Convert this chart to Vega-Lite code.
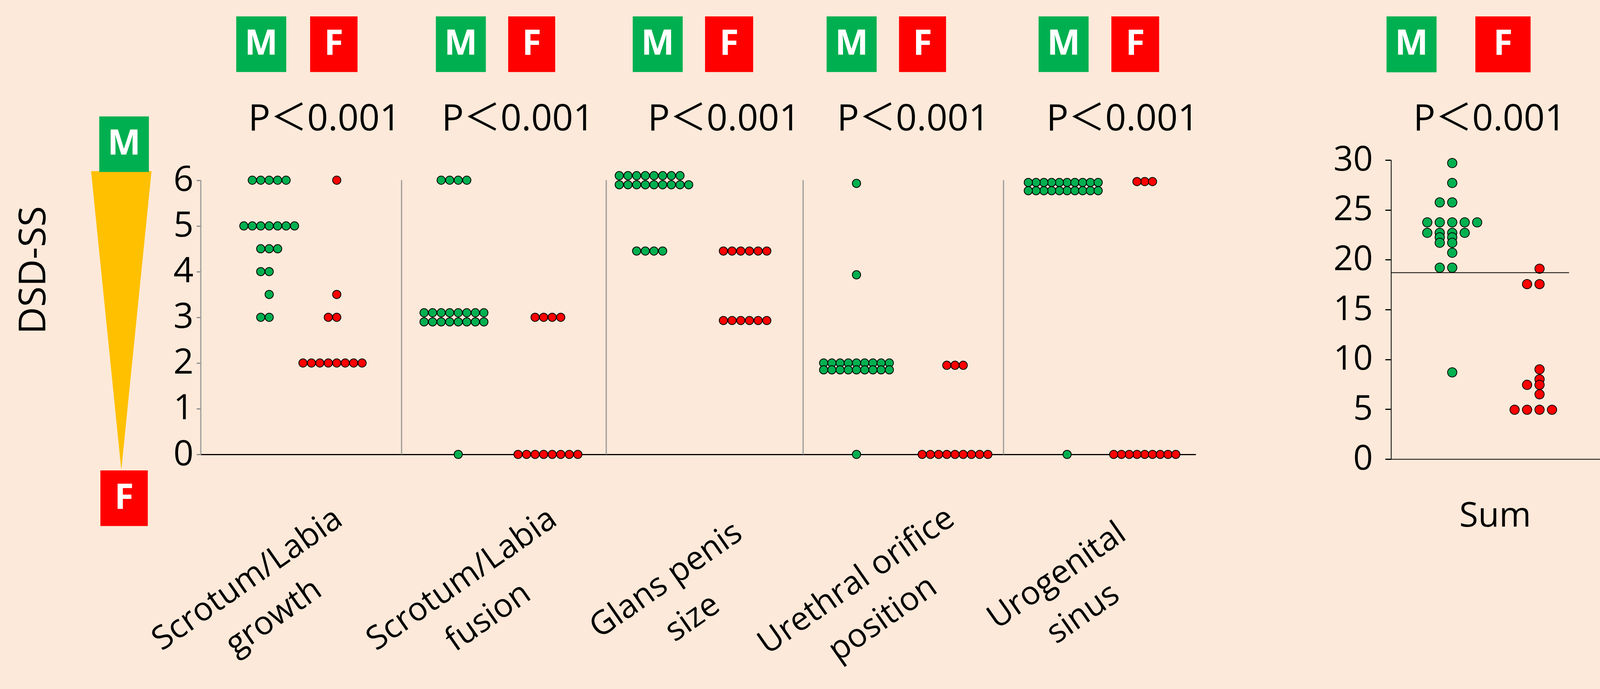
{
"$schema": "https://vega.github.io/schema/vega-lite/v6.json",
"background": "#FDE9D9",
"padding": {"left": 0, "top": 42, "right": 0, "bottom": 0},
"bounds": "flush",
"spacing": 0,
"datasets": {
"dots": [
{"c":"growth","s":"M","v":6},{"c":"growth","s":"M","v":6},{"c":"growth","s":"M","v":6},{"c":"growth","s":"M","v":6},{"c":"growth","s":"M","v":6},
{"c":"growth","s":"M","v":5},{"c":"growth","s":"M","v":5},{"c":"growth","s":"M","v":5},{"c":"growth","s":"M","v":5},{"c":"growth","s":"M","v":5},{"c":"growth","s":"M","v":5},{"c":"growth","s":"M","v":5},
{"c":"growth","s":"M","v":4.5},{"c":"growth","s":"M","v":4.5},{"c":"growth","s":"M","v":4.5},
{"c":"growth","s":"M","v":4},{"c":"growth","s":"M","v":4},
{"c":"growth","s":"M","v":3.5},
{"c":"growth","s":"M","v":3},{"c":"growth","s":"M","v":3},
{"c":"growth","s":"F","v":6},
{"c":"growth","s":"F","v":3.5},
{"c":"growth","s":"F","v":3},{"c":"growth","s":"F","v":3},
{"c":"growth","s":"F","v":2},{"c":"growth","s":"F","v":2},{"c":"growth","s":"F","v":2},{"c":"growth","s":"F","v":2},{"c":"growth","s":"F","v":2},{"c":"growth","s":"F","v":2},{"c":"growth","s":"F","v":2},{"c":"growth","s":"F","v":2},
{"c":"fusion","s":"M","v":6},{"c":"fusion","s":"M","v":6},{"c":"fusion","s":"M","v":6},{"c":"fusion","s":"M","v":6},
{"c":"fusion","s":"M","v":3.1},{"c":"fusion","s":"M","v":3.1},{"c":"fusion","s":"M","v":3.1},{"c":"fusion","s":"M","v":3.1},{"c":"fusion","s":"M","v":3.1},{"c":"fusion","s":"M","v":3.1},{"c":"fusion","s":"M","v":3.1},{"c":"fusion","s":"M","v":3.1},
{"c":"fusion","s":"M","v":2.9},{"c":"fusion","s":"M","v":2.9},{"c":"fusion","s":"M","v":2.9},{"c":"fusion","s":"M","v":2.9},{"c":"fusion","s":"M","v":2.9},{"c":"fusion","s":"M","v":2.9},{"c":"fusion","s":"M","v":2.9},{"c":"fusion","s":"M","v":2.9},
{"c":"fusion","s":"M","v":0},
{"c":"fusion","s":"F","v":3},{"c":"fusion","s":"F","v":3},{"c":"fusion","s":"F","v":3},{"c":"fusion","s":"F","v":3},
{"c":"fusion","s":"F","v":0},{"c":"fusion","s":"F","v":0},{"c":"fusion","s":"F","v":0},{"c":"fusion","s":"F","v":0},{"c":"fusion","s":"F","v":0},{"c":"fusion","s":"F","v":0},{"c":"fusion","s":"F","v":0},{"c":"fusion","s":"F","v":0},
{"c":"glans","s":"M","v":6.1},{"c":"glans","s":"M","v":6.1},{"c":"glans","s":"M","v":6.1},{"c":"glans","s":"M","v":6.1},{"c":"glans","s":"M","v":6.1},{"c":"glans","s":"M","v":6.1},{"c":"glans","s":"M","v":6.1},{"c":"glans","s":"M","v":6.1},
{"c":"glans","s":"M","v":5.9},{"c":"glans","s":"M","v":5.9},{"c":"glans","s":"M","v":5.9},{"c":"glans","s":"M","v":5.9},{"c":"glans","s":"M","v":5.9},{"c":"glans","s":"M","v":5.9},{"c":"glans","s":"M","v":5.9},{"c":"glans","s":"M","v":5.9},{"c":"glans","s":"M","v":5.9},
{"c":"glans","s":"M","v":4.45},{"c":"glans","s":"M","v":4.45},{"c":"glans","s":"M","v":4.45},{"c":"glans","s":"M","v":4.45},
{"c":"glans","s":"F","v":4.45},{"c":"glans","s":"F","v":4.45},{"c":"glans","s":"F","v":4.45},{"c":"glans","s":"F","v":4.45},{"c":"glans","s":"F","v":4.45},{"c":"glans","s":"F","v":4.45},
{"c":"glans","s":"F","v":2.93},{"c":"glans","s":"F","v":2.93},{"c":"glans","s":"F","v":2.93},{"c":"glans","s":"F","v":2.93},{"c":"glans","s":"F","v":2.93},{"c":"glans","s":"F","v":2.93},
{"c":"orifice","s":"M","v":5.93},
{"c":"orifice","s":"M","v":3.93},
{"c":"orifice","s":"M","v":2},{"c":"orifice","s":"M","v":2},{"c":"orifice","s":"M","v":2},{"c":"orifice","s":"M","v":2},{"c":"orifice","s":"M","v":2},{"c":"orifice","s":"M","v":2},{"c":"orifice","s":"M","v":2},{"c":"orifice","s":"M","v":2},{"c":"orifice","s":"M","v":2},
{"c":"orifice","s":"M","v":1.85},{"c":"orifice","s":"M","v":1.85},{"c":"orifice","s":"M","v":1.85},{"c":"orifice","s":"M","v":1.85},{"c":"orifice","s":"M","v":1.85},{"c":"orifice","s":"M","v":1.85},{"c":"orifice","s":"M","v":1.85},{"c":"orifice","s":"M","v":1.85},{"c":"orifice","s":"M","v":1.85},
{"c":"orifice","s":"M","v":0},
{"c":"orifice","s":"F","v":1.95},{"c":"orifice","s":"F","v":1.95},{"c":"orifice","s":"F","v":1.95},
{"c":"orifice","s":"F","v":0},{"c":"orifice","s":"F","v":0},{"c":"orifice","s":"F","v":0},{"c":"orifice","s":"F","v":0},{"c":"orifice","s":"F","v":0},{"c":"orifice","s":"F","v":0},{"c":"orifice","s":"F","v":0},{"c":"orifice","s":"F","v":0},{"c":"orifice","s":"F","v":0},
{"c":"sinus","s":"M","v":5.95},{"c":"sinus","s":"M","v":5.95},{"c":"sinus","s":"M","v":5.95},{"c":"sinus","s":"M","v":5.95},{"c":"sinus","s":"M","v":5.95},{"c":"sinus","s":"M","v":5.95},{"c":"sinus","s":"M","v":5.95},{"c":"sinus","s":"M","v":5.95},{"c":"sinus","s":"M","v":5.95},{"c":"sinus","s":"M","v":5.95},
{"c":"sinus","s":"M","v":5.77},{"c":"sinus","s":"M","v":5.77},{"c":"sinus","s":"M","v":5.77},{"c":"sinus","s":"M","v":5.77},{"c":"sinus","s":"M","v":5.77},{"c":"sinus","s":"M","v":5.77},{"c":"sinus","s":"M","v":5.77},{"c":"sinus","s":"M","v":5.77},{"c":"sinus","s":"M","v":5.77},{"c":"sinus","s":"M","v":5.77},
{"c":"sinus","s":"M","v":0},
{"c":"sinus","s":"F","v":5.97},{"c":"sinus","s":"F","v":5.97},{"c":"sinus","s":"F","v":5.97},
{"c":"sinus","s":"F","v":0},{"c":"sinus","s":"F","v":0},{"c":"sinus","s":"F","v":0},{"c":"sinus","s":"F","v":0},{"c":"sinus","s":"F","v":0},{"c":"sinus","s":"F","v":0},{"c":"sinus","s":"F","v":0},{"c":"sinus","s":"F","v":0},{"c":"sinus","s":"F","v":0},
{"c":"sum","s":"M","v":29.7},
{"c":"sum","s":"M","v":27.7},
{"c":"sum","s":"M","v":25.75},{"c":"sum","s":"M","v":25.75},
{"c":"sum","s":"M","v":23.75},{"c":"sum","s":"M","v":23.75},{"c":"sum","s":"M","v":23.75},{"c":"sum","s":"M","v":23.75},{"c":"sum","s":"M","v":23.75},
{"c":"sum","s":"M","v":22.7},{"c":"sum","s":"M","v":22.7},{"c":"sum","s":"M","v":22.7},{"c":"sum","s":"M","v":22.7},
{"c":"sum","s":"M","v":22.25},{"c":"sum","s":"M","v":22.25},
{"c":"sum","s":"M","v":21.7},{"c":"sum","s":"M","v":21.7},
{"c":"sum","s":"M","v":20.7},
{"c":"sum","s":"M","v":19.2},{"c":"sum","s":"M","v":19.2},
{"c":"sum","s":"M","v":8.7},
{"c":"sum","s":"F","v":19.1},
{"c":"sum","s":"F","v":17.55},{"c":"sum","s":"F","v":17.55},
{"c":"sum","s":"F","v":9.0},
{"c":"sum","s":"F","v":8.0},
{"c":"sum","s":"F","v":7.45},{"c":"sum","s":"F","v":7.45},
{"c":"sum","s":"F","v":6.5},
{"c":"sum","s":"F","v":4.95},{"c":"sum","s":"F","v":4.95},{"c":"sum","s":"F","v":4.95},{"c":"sum","s":"F","v":4.95}
]
},
"hconcat": [
{
"width": 514, "height": 754,
"data": {"values": [{}]},
"layer": [
{"mark": {"type": "point", "shape": "M -0.2021 -1 L 0.2021 -1 L 0 1 Z", "filled": true, "color": "#FFC000", "opacity": 1, "size": 585700, "strokeWidth": 0},
 "encoding": {"x": {"datum": 0.6041, "type": "quantitative", "scale": {"domain": [0, 1]}, "axis": null}, "y": {"datum": 2.928, "type": "quantitative", "scale": {"domain": [0, 6.441], "nice": false, "zero": false}, "axis": null}}},
{"mark": {"type": "rect", "color": "#00B050"},
 "encoding": {"x": {"datum": 0.4944, "type": "quantitative", "scale": {"domain": [0, 1]}, "axis": null}, "x2": {"datum": 0.7416}, "y": {"datum": 7.396, "type": "quantitative", "scale": {"domain": [0, 6.441], "nice": false, "zero": false}, "axis": null}, "y2": {"datum": 6.18}}},
{"mark": {"type": "rect", "color": "#FF0000"},
 "encoding": {"x": {"datum": 0.5, "type": "quantitative", "scale": {"domain": [0, 1]}, "axis": null}, "x2": {"datum": 0.7361}, "y": {"datum": -0.351, "type": "quantitative", "scale": {"domain": [0, 6.441], "nice": false, "zero": false}, "axis": null}, "y2": {"datum": -1.567}}},
{"mark": {"type": "text", "text": "M", "color": "#FFFFFF", "fontSize": 90, "fontWeight": "bold", "font": "Open Sans", "align": "center", "baseline": "middle"},
 "encoding": {"x": {"datum": 0.618, "type": "quantitative", "scale": {"domain": [0, 1]}, "axis": null}, "y": {"datum": 6.788, "type": "quantitative", "scale": {"domain": [0, 6.441], "nice": false, "zero": false}, "axis": null}}},
{"mark": {"type": "text", "text": "F", "color": "#FFFFFF", "fontSize": 90, "fontWeight": "bold", "font": "Open Sans", "align": "center", "baseline": "middle"},
 "encoding": {"x": {"datum": 0.618, "type": "quantitative", "scale": {"domain": [0, 1]}, "axis": null}, "y": {"datum": -0.959, "type": "quantitative", "scale": {"domain": [0, 6.441], "nice": false, "zero": false}, "axis": null}}},
{"mark": {"type": "text", "text": "DSD-SS", "color": "#000000", "fontSize": 96, "font": "Open Sans", "align": "center", "baseline": "middle", "angle": 270},
 "encoding": {"x": {"datum": 0.169, "type": "quantitative", "scale": {"domain": [0, 1]}, "axis": null}, "y": {"datum": 4.033, "type": "quantitative", "scale": {"domain": [0, 6.441], "nice": false, "zero": false}, "axis": null}}}
]
},
{
"width": 514, "height": 754,
"resolve": {"scale": {"x": "independent"}},
"layer": [
{"data": {"name": "dots"},
 "transform": [{"filter": "datum.c == 'growth'"}, {"window": [{"op": "row_number", "as": "r"}], "groupby": ["s", "v"]}],
 "mark": {"type": "point", "shape": "circle", "filled": true, "size": 450, "stroke": "#000000", "strokeWidth": 2, "opacity": 1},
 "encoding": {
  "x": {"field": "s", "type": "nominal", "scale": {"domain": ["M", "F"], "paddingInner": 0, "paddingOuter": 0.486, "align": 0.463},
        "axis": {"labels": false, "ticks": false, "domain": true, "domainColor": "#000000", "domainWidth": 3, "grid": false, "title": ["Scrotum/Labia", "growth"], "titleFont": "Open Sans", "titleFontSize": 84, "titleFontWeight": "normal", "titleColor": "#000000", "titleAngle": 325, "titleAlign": "center", "titleBaseline": "middle", "titleLineHeight": 118, "titleX": 119, "titleY": 320}},
  "xOffset": {"field": "r", "type": "ordinal", "scale": {"type": "point", "padding": 0.5, "domain": [8, 6, 4, 2, 1, 3, 5, 7]}},
  "y": {"field": "v", "type": "quantitative", "scale": {"domain": [0, 6.441], "nice": false, "zero": false},
        "axis": {"values": [0, 1, 2, 3, 4, 5, 6], "format": "d", "domain": false, "grid": false, "ticks": true, "tickColor": "#8c8c8c", "tickWidth": 3, "tickSize": 11, "labelFont": "Open Sans", "labelFontSize": 90, "labelColor": "#000000", "labelPadding": 8, "title": null}},
  "fill": {"field": "s", "type": "nominal", "scale": {"domain": ["M", "F"], "range": ["#00B050", "#FF0000"]}, "legend": null}
 }},
{"data": {"values": [{}]}, "mark": {"type": "rule", "color": "#9a9a9a", "strokeWidth": 3},
 "encoding": {"x": {"datum": 0, "type": "quantitative", "scale": {"domain": [0, 1]}, "axis": null}, "y": {"datum": 0, "type": "quantitative", "title": null}, "y2": {"datum": 6}}},
{"data": {"values": [{}]}, "mark": {"type": "rect", "color": "#00B050"},
 "encoding": {"x": {"datum": 0.1766, "type": "quantitative", "scale": {"domain": [0, 1]}, "axis": null}, "x2": {"datum": 0.4257}, "y": {"datum": 9.584, "type": "quantitative", "title": null}, "y2": {"datum": 8.367}}},
{"data": {"values": [{}]}, "mark": {"type": "rect", "color": "#FF0000"},
 "encoding": {"x": {"datum": 0.5446, "type": "quantitative", "scale": {"domain": [0, 1]}, "axis": null}, "x2": {"datum": 0.7807}, "y": {"datum": 9.584, "type": "quantitative", "title": null}, "y2": {"datum": 8.367}}},
{"data": {"values": [{}]}, "mark": {"type": "text", "text": "M", "color": "#FFFFFF", "fontSize": 90, "fontWeight": "bold", "font": "Open Sans", "align": "center", "baseline": "middle"},
 "encoding": {"x": {"datum": 0.3011, "type": "quantitative", "scale": {"domain": [0, 1]}, "axis": null}, "y": {"datum": 8.976, "type": "quantitative", "title": null}}},
{"data": {"values": [{}]}, "mark": {"type": "text", "text": "F", "color": "#FFFFFF", "fontSize": 90, "fontWeight": "bold", "font": "Open Sans", "align": "center", "baseline": "middle"},
 "encoding": {"x": {"datum": 0.6626, "type": "quantitative", "scale": {"domain": [0, 1]}, "axis": null}, "y": {"datum": 8.976, "type": "quantitative", "title": null}}},
{"data": {"values": [{}]}, "mark": {"type": "text", "text": "P＜0.001", "color": "#000000", "fontSize": 94, "font": "Open Sans, Noto Sans CJK JP", "align": "center", "baseline": "alphabetic"},
 "encoding": {"x": {"datum": 0.6162, "type": "quantitative", "scale": {"domain": [0, 1]}, "axis": null}, "y": {"datum": 7.086, "type": "quantitative", "title": null}}}
]
},
{
"width": 524, "height": 754,
"resolve": {"scale": {"x": "independent"}},
"layer": [
{"data": {"name": "dots"},
 "transform": [{"filter": "datum.c == 'fusion'"}, {"window": [{"op": "row_number", "as": "r"}], "groupby": ["s", "v"]}],
 "mark": {"type": "point", "shape": "circle", "filled": true, "size": 450, "stroke": "#000000", "strokeWidth": 2, "opacity": 1},
 "encoding": {
  "x": {"field": "s", "type": "nominal", "scale": {"domain": ["M", "F"], "paddingInner": 0, "paddingOuter": 0.0893, "align": 0.578},
        "axis": {"labels": false, "ticks": false, "domain": true, "domainColor": "#000000", "domainWidth": 3, "grid": false, "title": ["Scrotum/Labia", "fusion"], "titleFont": "Open Sans", "titleFontSize": 84, "titleFontWeight": "normal", "titleColor": "#000000", "titleAngle": 325, "titleAlign": "center", "titleBaseline": "middle", "titleLineHeight": 118, "titleX": 154, "titleY": 320}},
  "xOffset": {"field": "r", "type": "ordinal", "scale": {"type": "point", "padding": 0.5, "domain": [10, 8, 6, 4, 2, 1, 3, 5, 7, 9, 11]}},
  "y": {"field": "v", "type": "quantitative", "scale": {"domain": [0, 6.441], "nice": false, "zero": false}, "axis": null},
  "fill": {"field": "s", "type": "nominal", "scale": {"domain": ["M", "F"], "range": ["#00B050", "#FF0000"]}, "legend": null}
 }},
{"data": {"values": [{}]}, "mark": {"type": "rule", "color": "#9a9a9a", "strokeWidth": 3},
 "encoding": {"x": {"datum": 0, "type": "quantitative", "scale": {"domain": [0, 1]}, "axis": null}, "y": {"datum": 0, "type": "quantitative", "title": null}, "y2": {"datum": 6}}},
{"data": {"values": [{}]}, "mark": {"type": "rect", "color": "#00B050"},
 "encoding": {"x": {"datum": 0.1676, "type": "quantitative", "scale": {"domain": [0, 1]}, "axis": null}, "x2": {"datum": 0.4117}, "y": {"datum": 9.584, "type": "quantitative", "title": null}, "y2": {"datum": 8.367}}},
{"data": {"values": [{}]}, "mark": {"type": "rect", "color": "#FF0000"},
 "encoding": {"x": {"datum": 0.5209, "type": "quantitative", "scale": {"domain": [0, 1]}, "axis": null}, "x2": {"datum": 0.7505}, "y": {"datum": 9.584, "type": "quantitative", "title": null}, "y2": {"datum": 8.367}}},
{"data": {"values": [{}]}, "mark": {"type": "text", "text": "M", "color": "#FFFFFF", "fontSize": 90, "fontWeight": "bold", "font": "Open Sans", "align": "center", "baseline": "middle"},
 "encoding": {"x": {"datum": 0.2896, "type": "quantitative", "scale": {"domain": [0, 1]}, "axis": null}, "y": {"datum": 8.976, "type": "quantitative", "title": null}}},
{"data": {"values": [{}]}, "mark": {"type": "text", "text": "F", "color": "#FFFFFF", "fontSize": 90, "fontWeight": "bold", "font": "Open Sans", "align": "center", "baseline": "middle"},
 "encoding": {"x": {"datum": 0.6357, "type": "quantitative", "scale": {"domain": [0, 1]}, "axis": null}, "y": {"datum": 8.976, "type": "quantitative", "title": null}}},
{"data": {"values": [{}]}, "mark": {"type": "text", "text": "P＜0.001", "color": "#000000", "fontSize": 94, "font": "Open Sans, Noto Sans CJK JP", "align": "center", "baseline": "alphabetic"},
 "encoding": {"x": {"datum": 0.5683, "type": "quantitative", "scale": {"domain": [0, 1]}, "axis": null}, "y": {"datum": 7.086, "type": "quantitative", "title": null}}}
]
},
{
"width": 504, "height": 754,
"resolve": {"scale": {"x": "independent"}},
"layer": [
{"data": {"name": "dots"},
 "transform": [{"filter": "datum.c == 'glans'"}, {"window": [{"op": "row_number", "as": "r"}], "groupby": ["s", "v"]}],
 "mark": {"type": "point", "shape": "circle", "filled": true, "size": 450, "stroke": "#000000", "strokeWidth": 2, "opacity": 1},
 "encoding": {
  "x": {"field": "s", "type": "nominal", "scale": {"domain": ["M", "F"], "paddingInner": 0, "paddingOuter": 0.03125, "align": 0},
        "axis": {"labels": false, "ticks": false, "domain": true, "domainColor": "#000000", "domainWidth": 3, "grid": false, "title": ["Glans penis", "size"], "titleFont": "Open Sans", "titleFontSize": 84, "titleFontWeight": "normal", "titleColor": "#000000", "titleAngle": 325, "titleAlign": "center", "titleBaseline": "middle", "titleLineHeight": 118, "titleX": 153, "titleY": 322}},
  "xOffset": {"field": "r", "type": "ordinal", "scale": {"type": "point", "padding": 0.5, "domain": [10, 8, 6, 4, 2, 1, 3, 5, 7, 9, 11]}},
  "y": {"field": "v", "type": "quantitative", "scale": {"domain": [0, 6.441], "nice": false, "zero": false}, "axis": null},
  "fill": {"field": "s", "type": "nominal", "scale": {"domain": ["M", "F"], "range": ["#00B050", "#FF0000"]}, "legend": null}
 }},
{"data": {"values": [{}]}, "mark": {"type": "rule", "color": "#9a9a9a", "strokeWidth": 3},
 "encoding": {"x": {"datum": 0, "type": "quantitative", "scale": {"domain": [0, 1]}, "axis": null}, "y": {"datum": 0, "type": "quantitative", "title": null}, "y2": {"datum": 6}}},
{"data": {"values": [{}]}, "mark": {"type": "rect", "color": "#00B050"},
 "encoding": {"x": {"datum": 0.1345, "type": "quantitative", "scale": {"domain": [0, 1]}, "axis": null}, "x2": {"datum": 0.3883}, "y": {"datum": 9.584, "type": "quantitative", "title": null}, "y2": {"datum": 8.367}}},
{"data": {"values": [{}]}, "mark": {"type": "rect", "color": "#FF0000"},
 "encoding": {"x": {"datum": 0.5019, "type": "quantitative", "scale": {"domain": [0, 1]}, "axis": null}, "x2": {"datum": 0.7462}, "y": {"datum": 9.584, "type": "quantitative", "title": null}, "y2": {"datum": 8.367}}},
{"data": {"values": [{}]}, "mark": {"type": "text", "text": "M", "color": "#FFFFFF", "fontSize": 90, "fontWeight": "bold", "font": "Open Sans", "align": "center", "baseline": "middle"},
 "encoding": {"x": {"datum": 0.2614, "type": "quantitative", "scale": {"domain": [0, 1]}, "axis": null}, "y": {"datum": 8.976, "type": "quantitative", "title": null}}},
{"data": {"values": [{}]}, "mark": {"type": "text", "text": "F", "color": "#FFFFFF", "fontSize": 90, "fontWeight": "bold", "font": "Open Sans", "align": "center", "baseline": "middle"},
 "encoding": {"x": {"datum": 0.6241, "type": "quantitative", "scale": {"domain": [0, 1]}, "axis": null}, "y": {"datum": 8.976, "type": "quantitative", "title": null}}},
{"data": {"values": [{}]}, "mark": {"type": "text", "text": "P＜0.001", "color": "#000000", "fontSize": 94, "font": "Open Sans, Noto Sans CJK JP", "align": "center", "baseline": "alphabetic"},
 "encoding": {"x": {"datum": 0.598, "type": "quantitative", "scale": {"domain": [0, 1]}, "axis": null}, "y": {"datum": 7.086, "type": "quantitative", "title": null}}}
]
},
{
"width": 513, "height": 754,
"resolve": {"scale": {"x": "independent"}},
"layer": [
{"data": {"name": "dots"},
 "transform": [{"filter": "datum.c == 'orifice'"}, {"window": [{"op": "row_number", "as": "r"}], "groupby": ["s", "v"]}],
 "mark": {"type": "point", "shape": "circle", "filled": true, "size": 450, "stroke": "#000000", "strokeWidth": 2, "opacity": 1},
 "encoding": {
  "x": {"field": "s", "type": "nominal", "scale": {"domain": ["M", "F"], "paddingInner": 0, "paddingOuter": 0.017, "align": 0},
        "axis": {"labels": false, "ticks": false, "domain": true, "domainColor": "#000000", "domainWidth": 3, "grid": false, "title": ["Urethral orifice", "position"], "titleFont": "Open Sans", "titleFontSize": 84, "titleFontWeight": "normal", "titleColor": "#000000", "titleAngle": 325, "titleAlign": "center", "titleBaseline": "middle", "titleLineHeight": 118, "titleX": 136, "titleY": 324}},
  "xOffset": {"field": "r", "type": "ordinal", "scale": {"type": "point", "padding": 0.5, "domain": [12, 10, 8, 6, 4, 2, 1, 3, 5, 7, 9, 11]}},
  "y": {"field": "v", "type": "quantitative", "scale": {"domain": [0, 6.441], "nice": false, "zero": false}, "axis": null},
  "fill": {"field": "s", "type": "nominal", "scale": {"domain": ["M", "F"], "range": ["#00B050", "#FF0000"]}, "legend": null}
 }},
{"data": {"values": [{}]}, "mark": {"type": "rule", "color": "#9a9a9a", "strokeWidth": 3},
 "encoding": {"x": {"datum": 0, "type": "quantitative", "scale": {"domain": [0, 1]}, "axis": null}, "y": {"datum": 0, "type": "quantitative", "title": null}, "y2": {"datum": 6}}},
{"data": {"values": [{}]}, "mark": {"type": "rect", "color": "#00B050"},
 "encoding": {"x": {"datum": 0.1173, "type": "quantitative", "scale": {"domain": [0, 1]}, "axis": null}, "x2": {"datum": 0.3669}, "y": {"datum": 9.584, "type": "quantitative", "title": null}, "y2": {"datum": 8.367}}},
{"data": {"values": [{}]}, "mark": {"type": "rect", "color": "#FF0000"},
 "encoding": {"x": {"datum": 0.4786, "type": "quantitative", "scale": {"domain": [0, 1]}, "axis": null}, "x2": {"datum": 0.7132}, "y": {"datum": 9.584, "type": "quantitative", "title": null}, "y2": {"datum": 8.367}}},
{"data": {"values": [{}]}, "mark": {"type": "text", "text": "M", "color": "#FFFFFF", "fontSize": 90, "fontWeight": "bold", "font": "Open Sans", "align": "center", "baseline": "middle"},
 "encoding": {"x": {"datum": 0.2421, "type": "quantitative", "scale": {"domain": [0, 1]}, "axis": null}, "y": {"datum": 8.976, "type": "quantitative", "title": null}}},
{"data": {"values": [{}]}, "mark": {"type": "text", "text": "F", "color": "#FFFFFF", "fontSize": 90, "fontWeight": "bold", "font": "Open Sans", "align": "center", "baseline": "middle"},
 "encoding": {"x": {"datum": 0.5959, "type": "quantitative", "scale": {"domain": [0, 1]}, "axis": null}, "y": {"datum": 8.976, "type": "quantitative", "title": null}}},
{"data": {"values": [{}]}, "mark": {"type": "text", "text": "P＜0.001", "color": "#000000", "fontSize": 94, "font": "Open Sans, Noto Sans CJK JP", "align": "center", "baseline": "alphabetic"},
 "encoding": {"x": {"datum": 0.5493, "type": "quantitative", "scale": {"domain": [0, 1]}, "axis": null}, "y": {"datum": 7.086, "type": "quantitative", "title": null}}}
]
},
{
"width": 492, "height": 754,
"resolve": {"scale": {"x": "independent"}},
"layer": [
{"data": {"name": "dots"},
 "transform": [{"filter": "datum.c == 'sinus'"}, {"window": [{"op": "row_number", "as": "r"}], "groupby": ["s", "v"]}],
 "mark": {"type": "point", "shape": "circle", "filled": true, "size": 450, "stroke": "#000000", "strokeWidth": 2, "opacity": 1},
 "encoding": {
  "x": {"field": "s", "type": "nominal", "scale": {"domain": ["M", "F"], "paddingInner": 0, "paddingOuter": 0.238, "align": 0.566},
        "axis": {"labels": false, "ticks": false, "domain": true, "domainColor": "#000000", "domainWidth": 3, "grid": false, "title": ["Urogenital", "sinus"], "titleFont": "Open Sans", "titleFontSize": 84, "titleFontWeight": "normal", "titleColor": "#000000", "titleAngle": 325, "titleAlign": "center", "titleBaseline": "middle", "titleLineHeight": 118, "titleX": 136, "titleY": 311}},
  "xOffset": {"field": "r", "type": "ordinal", "scale": {"type": "point", "padding": 0.5, "domain": [10, 8, 6, 4, 2, 1, 3, 5, 7, 9]}},
  "y": {"field": "v", "type": "quantitative", "scale": {"domain": [0, 6.441], "nice": false, "zero": false}, "axis": null},
  "fill": {"field": "s", "type": "nominal", "scale": {"domain": ["M", "F"], "range": ["#00B050", "#FF0000"]}, "legend": null}
 }},
{"data": {"values": [{}]}, "mark": {"type": "rule", "color": "#9a9a9a", "strokeWidth": 3},
 "encoding": {"x": {"datum": 0, "type": "quantitative", "scale": {"domain": [0, 1]}, "axis": null}, "y": {"datum": 0, "type": "quantitative", "title": null}, "y2": {"datum": 6}}},
{"data": {"values": [{}]}, "mark": {"type": "rect", "color": "#00B050"},
 "encoding": {"x": {"datum": 0.1825, "type": "quantitative", "scale": {"domain": [0, 1]}, "axis": null}, "x2": {"datum": 0.4427}, "y": {"datum": 9.584, "type": "quantitative", "title": null}, "y2": {"datum": 8.367}}},
{"data": {"values": [{}]}, "mark": {"type": "rect", "color": "#FF0000"},
 "encoding": {"x": {"datum": 0.5612, "type": "quantitative", "scale": {"domain": [0, 1]}, "axis": null}, "x2": {"datum": 0.8097}, "y": {"datum": 9.584, "type": "quantitative", "title": null}, "y2": {"datum": 8.367}}},
{"data": {"values": [{}]}, "mark": {"type": "text", "text": "M", "color": "#FFFFFF", "fontSize": 90, "fontWeight": "bold", "font": "Open Sans", "align": "center", "baseline": "middle"},
 "encoding": {"x": {"datum": 0.3126, "type": "quantitative", "scale": {"domain": [0, 1]}, "axis": null}, "y": {"datum": 8.976, "type": "quantitative", "title": null}}},
{"data": {"values": [{}]}, "mark": {"type": "text", "text": "F", "color": "#FFFFFF", "fontSize": 90, "fontWeight": "bold", "font": "Open Sans", "align": "center", "baseline": "middle"},
 "encoding": {"x": {"datum": 0.6854, "type": "quantitative", "scale": {"domain": [0, 1]}, "axis": null}, "y": {"datum": 8.976, "type": "quantitative", "title": null}}},
{"data": {"values": [{}]}, "mark": {"type": "text", "text": "P＜0.001", "color": "#000000", "fontSize": 94, "font": "Open Sans, Noto Sans CJK JP", "align": "center", "baseline": "alphabetic"},
 "encoding": {"x": {"datum": 0.6194, "type": "quantitative", "scale": {"domain": [0, 1]}, "axis": null}, "y": {"datum": 7.086, "type": "quantitative", "title": null}}}
]
},
{
"width": 500, "height": 754,
"data": {"values": [{}]},
"mark": {"type": "point", "opacity": 0},
"encoding": {}
},
{
"width": 535, "height": 766,
"resolve": {"scale": {"x": "independent"}},
"layer": [
{"data": {"name": "dots"},
 "transform": [{"filter": "datum.c == 'sum'"}, {"window": [{"op": "row_number", "as": "r"}], "groupby": ["s", "v"]}],
 "mark": {"type": "point", "shape": "circle", "filled": true, "size": 570, "stroke": "#000000", "strokeWidth": 2, "opacity": 1},
 "encoding": {
  "x": {"field": "s", "type": "nominal", "scale": {"domain": ["M", "F"], "paddingInner": 0, "paddingOuter": 0.1966, "align": 0.511},
        "axis": {"labels": false, "ticks": false, "domain": true, "domainColor": "#000000", "domainWidth": 2, "grid": false, "title": "Sum", "titleFont": "Open Sans", "titleFontSize": 88, "titleFontWeight": "normal", "titleColor": "#000000", "titleAngle": 0, "titleAlign": "center", "titleBaseline": "alphabetic", "titleX": 266, "titleY": 172}},
  "xOffset": {"field": "r", "type": "ordinal", "scale": {"type": "point", "padding": 0.5, "domain": [6, 4, 2, 1, 3, 5, 7]}},
  "y": {"field": "v", "type": "quantitative", "scale": {"domain": [0, 30], "nice": false, "zero": false},
        "axis": {"values": [0, 5, 10, 15, 20, 25, 30], "format": "d", "domain": true, "domainColor": "#000000", "domainWidth": 2, "grid": false, "ticks": true, "tickColor": "#000000", "tickWidth": 3, "tickSize": 15, "labelFont": "Open Sans", "labelFontSize": 88, "labelColor": "#000000", "labelPadding": 32, "title": null}},
  "fill": {"field": "s", "type": "nominal", "scale": {"domain": ["M", "F"], "range": ["#00B050", "#FF0000"]}, "legend": null}
 }},
{"data": {"values": [{}]}, "mark": {"type": "rule", "color": "#000000", "strokeWidth": 2},
 "encoding": {"x": {"datum": 0, "type": "quantitative", "scale": {"domain": [0, 1]}, "axis": null}, "x2": {"datum": 0.852}, "y": {"datum": 18.7, "type": "quantitative", "title": null}}},
{"data": {"values": [{}]}, "mark": {"type": "rect", "color": "#00B050"},
 "encoding": {"x": {"datum": -0.0214, "type": "quantitative", "scale": {"domain": [0, 1]}, "axis": null}, "x2": {"datum": 0.2179}, "y": {"datum": 44.41, "type": "quantitative", "title": null}, "y2": {"datum": 38.8}}},
{"data": {"values": [{}]}, "mark": {"type": "rect", "color": "#FF0000"},
 "encoding": {"x": {"datum": 0.4036, "type": "quantitative", "scale": {"domain": [0, 1]}, "axis": null}, "x2": {"datum": 0.6679}, "y": {"datum": 44.41, "type": "quantitative", "title": null}, "y2": {"datum": 38.8}}},
{"data": {"values": [{}]}, "mark": {"type": "text", "text": "M", "color": "#FFFFFF", "fontSize": 90, "fontWeight": "bold", "font": "Open Sans", "align": "center", "baseline": "middle"},
 "encoding": {"x": {"datum": 0.0982, "type": "quantitative", "scale": {"domain": [0, 1]}, "axis": null}, "y": {"datum": 41.62, "type": "quantitative", "title": null}}},
{"data": {"values": [{}]}, "mark": {"type": "text", "text": "F", "color": "#FFFFFF", "fontSize": 90, "fontWeight": "bold", "font": "Open Sans", "align": "center", "baseline": "middle"},
 "encoding": {"x": {"datum": 0.5357, "type": "quantitative", "scale": {"domain": [0, 1]}, "axis": null}, "y": {"datum": 41.62, "type": "quantitative", "title": null}}},
{"data": {"values": [{}]}, "mark": {"type": "text", "text": "P＜0.001", "color": "#000000", "fontSize": 94, "font": "Open Sans, Noto Sans CJK JP", "align": "center", "baseline": "alphabetic"},
 "encoding": {"x": {"datum": 0.4714, "type": "quantitative", "scale": {"domain": [0, 1]}, "axis": null}, "y": {"datum": 32.96, "type": "quantitative", "title": null}}}
]
}
],
"resolve": {"scale": {"x": "independent", "y": "independent", "xOffset": "independent", "fill": "shared"}},
"config": {
"view": {"stroke": null, "fill": "#FDE9D9"},
"font": "Open Sans",
"axis": {"labelFont": "Open Sans", "titleFont": "Open Sans"}
}
}
